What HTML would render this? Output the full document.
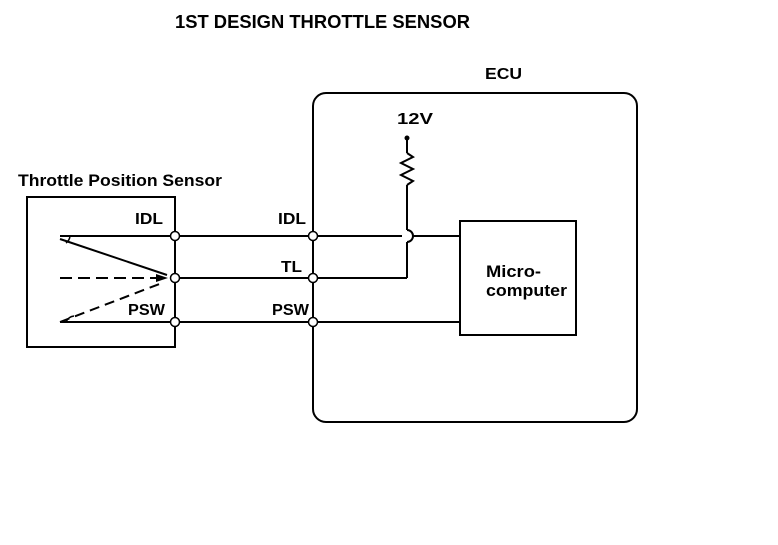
<!DOCTYPE html>
<html><head><style>
html,body{margin:0;padding:0;background:#fff;}
svg{display:block;}
text{font-family:"Liberation Sans",Arial,sans-serif;font-weight:bold;fill:#000;}
</style></head><body>
<svg width="778" height="545" viewBox="0 0 778 545" xmlns="http://www.w3.org/2000/svg">
<g stroke="#000" stroke-width="2" fill="none">
<rect x="313" y="93" width="324" height="329" rx="13"/>
<rect x="27" y="197" width="148" height="150"/>
<rect x="460" y="221" width="116" height="114"/>
<!-- wires -->
<line x1="60" y1="236" x2="402" y2="236"/>
<line x1="412" y1="236" x2="460" y2="236"/>
<line x1="175" y1="278" x2="407" y2="278"/>
<line x1="60" y1="322" x2="460" y2="322"/>
<!-- resistor -->
<line x1="407" y1="139" x2="407" y2="153"/>
<polyline points="407,153 413,157 401,163 413,169 401,175 413,181 407,185"/>
<line x1="407" y1="185" x2="407" y2="230"/>
<path d="M407 230 A6 6 0 0 1 407 242"/>
<line x1="407" y1="242" x2="407" y2="278"/>
<!-- sensor internals -->
<line x1="60" y1="239" x2="167" y2="275"/>
<path d="M70 236 A10 10 0 0 1 66 243" stroke-width="1.5"/>
<line x1="60" y1="278" x2="158" y2="278" stroke-dasharray="12,6"/>
<line x1="60" y1="322" x2="162" y2="283" stroke-dasharray="10,6"/>
<path d="M66 322 A10 10 0 0 1 74 316" stroke-width="1.5"/>
</g>
<polygon points="168,278 156,274 156,282" fill="#000"/>
<circle cx="407" cy="138" r="2.5" fill="#000"/>
<g fill="#fff" stroke="#000" stroke-width="1.5">
<circle cx="175" cy="236" r="4.5"/><circle cx="175" cy="278" r="4.5"/><circle cx="175" cy="322" r="4.5"/>
<circle cx="313" cy="236" r="4.5"/><circle cx="313" cy="278" r="4.5"/><circle cx="313" cy="322" r="4.5"/>
</g>
<text x="175" y="28" font-size="18" textLength="295" lengthAdjust="spacingAndGlyphs">1ST DESIGN THROTTLE SENSOR</text>
<text x="485" y="79" font-size="16" textLength="37" lengthAdjust="spacingAndGlyphs">ECU</text>
<text x="397" y="124" font-size="16" textLength="36" lengthAdjust="spacingAndGlyphs">12V</text>
<text x="18" y="186" font-size="17" textLength="204" lengthAdjust="spacingAndGlyphs">Throttle Position Sensor</text>
<text x="135" y="224" font-size="16" textLength="28" lengthAdjust="spacingAndGlyphs">IDL</text>
<text x="278" y="224" font-size="16" textLength="28" lengthAdjust="spacingAndGlyphs">IDL</text>
<text x="281" y="272" font-size="16" textLength="21" lengthAdjust="spacingAndGlyphs">TL</text>
<text x="128" y="315" font-size="16" textLength="37" lengthAdjust="spacingAndGlyphs">PSW</text>
<text x="272" y="315" font-size="16" textLength="37" lengthAdjust="spacingAndGlyphs">PSW</text>
<text x="486" y="277" font-size="17" textLength="55" lengthAdjust="spacingAndGlyphs">Micro-</text>
<text x="486" y="296" font-size="17" textLength="81" lengthAdjust="spacingAndGlyphs">computer</text>
</svg>
</body></html>
